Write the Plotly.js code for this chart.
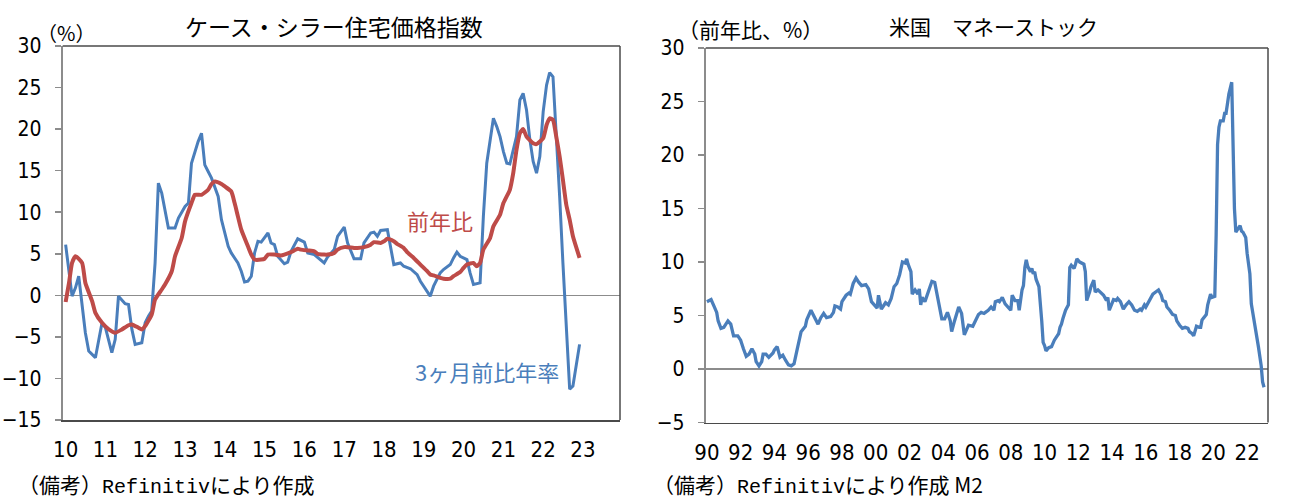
<!DOCTYPE html>
<html>
<head>
<meta charset="utf-8">
<script src="https://cdn.plot.ly/plotly-3.0.1.min.js"></script>
<style>
  html, body { margin: 0; padding: 0; background: #ffffff; }
  #chart { width: 1299px; height: 504px; }
</style>
</head>
<body>
<div id="chart"></div>
<script>
// Case-Shiller home price index: year-on-year change (%)
const hpiYoyDates = ['2010-01','2010-02','2010-03','2010-04','2010-06','2010-07','2010-09','2010-10','2010-12',
  '2011-02','2011-04','2011-06','2011-08','2011-09','2011-11','2011-12','2012-01','2012-03','2012-04','2012-06',
  '2012-07','2012-09','2012-10','2012-12','2013-01','2013-03','2013-04','2013-05','2013-06','2013-08','2013-09',
  '2013-10','2013-12','2014-01','2014-03','2014-04','2014-05','2014-06','2014-08','2014-09','2014-10','2014-12',
  '2015-01','2015-02','2015-04','2015-06','2015-07','2015-09','2015-11','2015-12','2016-02','2016-04','2016-05',
  '2016-07','2016-08','2016-10','2016-11','2017-01','2017-02','2017-04','2017-05','2017-07','2017-09','2017-10',
  '2017-12','2018-01','2018-02','2018-04','2018-05','2018-07','2018-08','2018-10','2018-12','2019-02','2019-03',
  '2019-04','2019-06','2019-07','2019-09','2019-10','2019-12','2020-01','2020-02','2020-04','2020-05','2020-06',
  '2020-07','2020-09','2020-10','2020-12','2021-01','2021-03','2021-04','2021-05','2021-06','2021-07','2021-08',
  '2021-10','2021-11','2022-01','2022-02','2022-03','2022-04','2022-05','2022-06','2022-07','2022-08','2022-09',
  '2022-10','2022-12'];
const hpiYoy = [-0.8,1.5,3.9,4.7,3.9,1.5,-0.7,-2.1,-3.3,
  -4.1,-4.5,-4.1,-3.6,-3.5,-3.9,-4.1,-3.7,-2.3,-0.5,0.7,
  1.3,2.9,4.7,6.9,8.9,11.1,12.1,12.1,12.1,12.7,13.4,
  13.7,13.4,13.1,12.5,11.1,9.5,7.9,5.9,4.9,4.3,4.3,
  4.4,4.9,4.9,4.8,4.9,5.2,5.6,5.5,5.4,5.3,5.0,
  4.9,4.9,5.1,5.5,5.8,5.8,5.7,5.7,5.8,6.1,6.4,
  6.3,6.5,6.8,6.5,6.2,5.7,5.2,4.5,3.7,2.9,2.5,
  2.4,2.1,2.0,2.0,2.3,2.8,3.3,3.7,3.9,3.5,3.9,
  5.5,6.9,8.3,9.7,11.1,12.7,14.7,17.5,19.5,20.0,19.1,
  18.3,18.2,18.9,20.5,21.3,21.1,19.1,16.7,13.9,10.9,9.1,
  7.1,4.5];

// Case-Shiller home price index: 3-month change, annualised (%)
const hpi3mDates = ['2010-01','2010-03','2010-04','2010-05','2010-07','2010-08','2010-10','2010-11','2010-12',
  '2011-01','2011-03','2011-04','2011-05','2011-07','2011-08','2011-09','2011-10','2011-12','2012-01','2012-02',
  '2012-03','2012-04','2012-05','2012-06','2012-08','2012-10','2012-11','2013-01','2013-02','2013-03','2013-05',
  '2013-06','2013-07','2013-08','2013-09','2013-11','2013-12','2014-02','2014-03','2014-05','2014-06','2014-07',
  '2014-08','2014-09','2014-10','2014-11','2014-12','2015-02','2015-03','2015-04','2015-05','2015-07','2015-08',
  '2015-09','2015-11','2016-01','2016-02','2016-04','2016-06','2016-07','2016-08','2016-10','2016-11','2017-01',
  '2017-02','2017-04','2017-06','2017-07','2017-09','2017-10','2017-11','2017-12','2018-02','2018-03','2018-04',
  '2018-06','2018-07','2018-09','2018-11','2018-12','2019-01','2019-03','2019-04','2019-06','2019-07','2019-09',
  '2019-10','2019-11','2019-12','2020-02','2020-03','2020-04','2020-06','2020-07','2020-08','2020-10','2020-11',
  '2020-12','2021-01','2021-02','2021-03','2021-05','2021-06','2021-07','2021-08','2021-09','2021-10','2021-11',
  '2021-12','2022-01','2022-02','2022-03','2022-04','2022-05','2022-06','2022-07','2022-08','2022-09','2022-10',
  '2022-11','2022-12'];
const hpi3m = [6.1,-0.1,0.9,2.3,-4.5,-6.7,-7.5,-5.3,-3.3,
  -3.9,-6.9,-5.3,-0.1,-1.0,-1.1,-4.1,-5.9,-5.7,-3.3,-2.5,
  -1.9,3.9,13.5,12.3,8.1,8.1,9.3,10.7,11.1,15.9,18.5,
  19.5,15.7,14.9,14.1,11.9,9.1,5.9,5.1,3.9,2.9,1.6,
  1.7,2.3,5.1,6.5,6.4,7.5,6.3,6.1,4.7,3.8,4.0,
  5.3,6.8,6.4,5.1,4.9,4.3,3.9,4.6,5.5,7.1,8.2,
  6.3,4.4,4.4,6.3,7.5,7.6,7.1,7.8,7.9,5.9,3.7,
  3.9,3.5,3.2,2.5,1.7,1.1,-0.1,1.1,2.7,3.1,3.7,
  4.5,5.2,4.7,4.3,2.7,1.3,1.5,9.5,15.9,21.3,20.3,
  19.1,17.3,15.9,15.8,19.1,23.5,24.3,22.3,18.7,16.1,14.7,
  16.7,22.1,25.3,26.8,26.3,19.9,11.9,3.9,-4.1,-11.3,-10.9,
  -8.5,-5.9];

// US money stock M2: year-on-year change (%)
const m2Dates = ['1990-01','1990-02','1990-04','1990-06','1990-08','1990-09','1990-11','1991-01','1991-04','1991-06',
  '1991-08','1991-11','1992-01','1992-03','1992-05','1992-07','1992-09','1992-11','1992-12','1993-02',
  '1993-04','1993-05','1993-07','1993-09','1993-12','1994-01','1994-03','1994-05','1994-07','1994-09',
  '1994-11','1995-01','1995-03','1995-05','1995-07','1995-08','1995-11','1995-12','1996-03','1996-05',
  '1996-07','1996-08','1996-10','1996-12','1997-02','1997-05','1997-07','1997-08','1997-10','1997-12',
  '1998-01','1998-04','1998-06','1998-07','1998-09','1998-11','1999-01','1999-03','1999-06','1999-08',
  '1999-10','1999-12','2000-02','2000-03','2000-05','2000-06','2000-08','2000-10','2000-12','2001-02',
  '2001-04','2001-06','2001-07','2001-08','2001-10','2001-11','2001-12','2002-02','2002-03','2002-05',
  '2002-07','2002-08','2002-09','2002-10','2002-12','2003-01','2003-04','2003-05','2003-07','2003-09',
  '2003-11','2003-12','2004-02','2004-04','2004-06','2004-07','2004-09','2004-11','2004-12','2005-02',
  '2005-03','2005-04','2005-06','2005-07','2005-10','2005-12','2006-02','2006-04','2006-06','2006-07',
  '2006-09','2006-11','2007-01','2007-02','2007-04','2007-05','2007-07','2007-09','2007-11','2008-01',
  '2008-02','2008-04','2008-06','2008-07','2008-09','2008-10','2008-11','2008-12','2009-01','2009-03',
  '2009-04','2009-05','2009-06','2009-07','2009-09','2009-10','2009-11','2009-12','2010-01','2010-02',
  '2010-04','2010-06','2010-08','2010-10','2010-11','2010-12','2011-01','2011-02','2011-04','2011-06',
  '2011-07','2011-08','2011-10','2011-11','2011-12','2012-02','2012-05','2012-06','2012-07','2012-09',
  '2012-10','2012-12','2013-01','2013-03','2013-05','2013-07','2013-09','2013-10','2013-11','2014-01',
  '2014-02','2014-04','2014-05','2014-07','2014-09','2014-11','2015-01','2015-03','2015-05','2015-07',
  '2015-09','2015-10','2015-12','2016-01','2016-03','2016-05','2016-06','2016-08','2016-10','2016-12',
  '2017-01','2017-03','2017-04','2017-06','2017-08','2017-10','2017-11','2018-01','2018-03','2018-05',
  '2018-07','2018-08','2018-10','2018-11','2018-12','2019-01','2019-03','2019-04','2019-05','2019-08',
  '2019-09','2019-11','2019-12','2020-02','2020-03','2020-04','2020-05','2020-06','2020-07','2020-08',
  '2020-09','2020-10','2020-11','2020-12','2021-02','2021-03','2021-04','2021-05','2021-07','2021-08',
  '2021-09','2021-10','2021-12','2022-01','2022-03','2022-04','2022-05','2022-07','2022-09','2022-11',
  '2022-12','2023-01'];
const m2Yoy = [6.3,6.4,6.5,5.9,5.3,4.5,3.8,3.9,4.5,4.2,
  3.1,3.1,2.7,1.9,1.2,1.4,1.9,1.4,0.7,0.3,
  0.7,1.4,1.4,1.1,1.5,1.8,2.1,1.1,1.3,0.8,
  0.4,0.3,0.5,1.7,2.7,3.5,4.0,4.6,5.5,5.0,
  4.6,4.2,4.8,5.2,4.8,4.9,5.3,5.9,5.8,5.6,
  6.3,6.9,7.1,7.0,8.0,8.5,8.1,7.8,7.9,7.5,
  6.3,6.0,5.7,6.9,5.6,5.8,6.2,6.0,6.6,7.7,
  8.0,8.8,9.6,10.0,9.9,10.3,9.8,9.1,7.0,7.4,
  7.0,7.5,6.0,6.7,6.3,6.7,7.8,8.2,8.1,6.6,
  5.3,4.7,4.7,5.3,4.5,3.5,4.5,5.5,5.8,5.2,
  4.2,3.2,3.8,4.1,4.0,4.5,5.1,5.3,5.2,5.3,
  5.5,5.8,5.5,6.3,6.4,6.3,6.7,6.1,5.8,5.5,
  6.9,6.4,6.4,5.5,7.4,7.8,9.5,10.2,9.6,9.1,
  9.4,8.9,9.1,8.4,7.7,6.3,4.5,2.5,2.2,1.7,
  2.0,2.1,2.7,3.1,3.3,3.9,4.2,4.7,5.5,6.0,
  9.5,9.7,9.4,9.8,10.3,10.0,9.8,9.1,6.4,7.2,
  7.7,8.3,7.2,7.4,7.1,6.9,6.4,6.7,5.5,6.1,
  6.5,6.4,6.6,6.3,5.6,6.0,6.3,6.0,5.5,5.4,
  5.6,5.5,6.0,5.8,6.3,6.7,7.0,7.2,7.4,6.9,
  6.4,6.3,5.8,5.5,5.1,5.0,4.5,4.1,3.8,3.9,
  3.8,3.5,3.3,3.1,3.6,4.0,3.9,3.9,4.6,5.1,
  6.0,7.0,6.7,6.8,12.5,21.0,22.6,23.2,23.2,23.2,
  23.9,23.9,24.8,25.7,26.8,20.5,15.0,12.8,13.3,13.4,
  12.9,12.8,12.3,10.8,8.9,6.1,5.3,3.9,2.1,0.3,
  -1.2,-1.7];

// Year tick labels for both panels
const hpiTickVals = ['2010-01-01','2011-01-01','2012-01-01','2013-01-01','2014-01-01','2015-01-01','2016-01-01',
  '2017-01-01','2018-01-01','2019-01-01','2020-01-01','2021-01-01','2022-01-01','2023-01-01'];
const hpiTickText = ['10','11','12','13','14','15','16','17','18','19','20','21','22','23'];
const m2TickVals = ['1990-01-01','1992-01-01','1994-01-01','1996-01-01','1998-01-01','2000-01-01','2002-01-01',
  '2004-01-01','2006-01-01','2008-01-01','2010-01-01','2012-01-01','2014-01-01','2016-01-01','2018-01-01',
  '2020-01-01','2022-01-01'];
const m2TickText = ['90','92','94','96','98','00','02','04','06','08','10','12','14','16','18','20','22'];

const W = 1299, H = 504;
const px = x => x / W;
const py = y => 1 - y / H;

const NUM_FONT = '"Liberation Sans Narrow", "DejaVu Sans Condensed", "DejaVu Sans", sans-serif';
const JP_FONT = '"Noto Sans CJK JP", sans-serif';
const MONO_FONT = '"Liberation Mono", "DejaVu Sans Mono", monospace';
const BLUE = '#4A7EBB';
const RED = '#BE4B48';
const AXIS_GRAY = '#8c8c8c';
const FRAME = '#4a4a4a';

const traces = [
  { x: hpi3mDates, y: hpi3m, xaxis: 'x', yaxis: 'y', type: 'scatter', mode: 'lines',
    line: { color: BLUE, width: 3 }, hoverinfo: 'skip' },
  { x: hpiYoyDates, y: hpiYoy, xaxis: 'x', yaxis: 'y', type: 'scatter', mode: 'lines',
    line: { color: RED, width: 4, shape: 'spline', smoothing: 0.5 }, hoverinfo: 'skip' },
  { x: m2Dates, y: m2Yoy, xaxis: 'x2', yaxis: 'y2', type: 'scatter', mode: 'lines',
    line: { color: BLUE, width: 3.3 }, hoverinfo: 'skip' }
];

function xAxis(domain, range, vals, text, anchor) {
  return {
    domain: domain, anchor: anchor, type: 'date', range: range,
    tickmode: 'array', tickvals: vals, ticktext: text,
    ticks: '', showgrid: false, zeroline: false,
    showline: true, linecolor: FRAME, linewidth: 1.5,
    tickfont: { family: NUM_FONT, size: 22, color: '#000' },
    ticklabelstandoff: 9, fixedrange: true
  };
}
function yAxis(domain, range, anchor) {
  return {
    domain: domain, anchor: anchor, range: range, tick0: 0, dtick: 5,
    ticks: 'outside', ticklen: 6, tickwidth: 1.5, tickcolor: AXIS_GRAY,
    showline: true, linecolor: AXIS_GRAY, linewidth: 2,
    showgrid: false, zeroline: true, zerolinecolor: AXIS_GRAY, zerolinewidth: 1.5,
    tickfont: { family: NUM_FONT, size: 21, color: '#000' },
    ticklabelstandoff: 9, fixedrange: true
  };
}

const frameLines = [];
[['x', 'y'], ['x2', 'y2']].forEach(([xa, ya]) => {
  frameLines.push({ type: 'line', xref: xa + ' domain', yref: ya + ' domain', x0: 0, x1: 1, y0: 1, y1: 1,
    line: { color: FRAME, width: 1.5 }, layer: 'above' });
  frameLines.push({ type: 'line', xref: xa + ' domain', yref: ya + ' domain', x0: 1, x1: 1, y0: 0, y1: 1,
    line: { color: FRAME, width: 1.5 }, layer: 'above' });
});

function note(text, x, y, size, opts) {
  return Object.assign({ text: text, x: x, y: y, xref: 'paper', yref: 'paper', showarrow: false,
    xanchor: 'center', yanchor: 'middle', font: { family: JP_FONT, size: size, color: '#000' } }, opts || {});
}

const sourceWord = '<span style="font-family:' + MONO_FONT.replace(/"/g, "'") + ';font-size:20px">Refinitiv</span>';

const annotations = [
  note('ケース・シラー住宅価格指数', px(334), py(26), 23),
  note('（%）', px(66), py(32), 20),
  note('米国　マネーストック', px(993), py(26), 21),
  note('（前年比、%）', px(750), py(29), 21),
  note('（備考）' + sourceWord + 'により作成', px(16), py(484), 21, { xanchor: 'left' }),
  note('（備考）' + sourceWord + 'により作成 M2', px(651), py(484), 21, { xanchor: 'left' }),
  { text: '前年比', x: '2019-05-29', y: 9.1, xref: 'x', yref: 'y', showarrow: false,
    xanchor: 'center', yanchor: 'middle', font: { family: JP_FONT, size: 22, color: RED } },
  { text: '3ヶ月前比年率', x: '2020-08-01', y: -9.1, xref: 'x', yref: 'y', showarrow: false,
    xanchor: 'center', yanchor: 'middle', font: { family: JP_FONT, size: 22, color: BLUE } }
];

const layout = {
  width: W, height: H,
  margin: { l: 0, r: 0, t: 0, b: 0 },
  paper_bgcolor: '#ffffff', plot_bgcolor: '#ffffff',
  showlegend: false,
  xaxis: xAxis([px(62.7), px(620)], ['2009-12-05', '2023-12-07'], hpiTickVals, hpiTickText, 'y'),
  yaxis: yAxis([py(420), py(46)], [-15, 30], 'x'),
  xaxis2: xAxis([px(705.7), px(1268)], ['1989-12-06', '2023-03-28'], m2TickVals, m2TickText, 'y2'),
  yaxis2: yAxis([py(422.6), py(48)], [-5, 30], 'x2'),
  shapes: frameLines,
  annotations: annotations
};

Plotly.newPlot('chart', traces, layout, { displayModeBar: false, staticPlot: true });
</script>
</body>
</html>
